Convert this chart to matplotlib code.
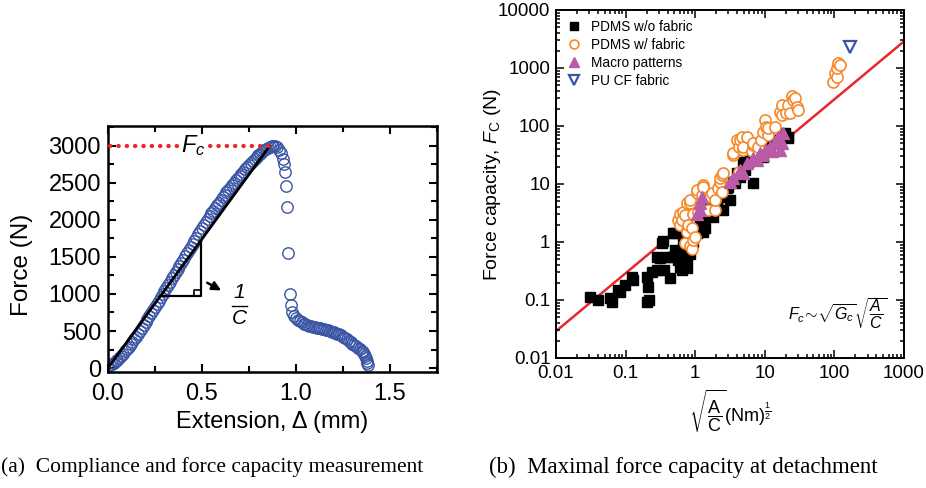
import matplotlib
matplotlib.use('Agg')
import matplotlib.pyplot as plt
from matplotlib.ticker import MultipleLocator, LogLocator, FuncFormatter, NullFormatter

plt.rcParams['font.family'] = ['Liberation Sans', 'DejaVu Sans']
plt.rcParams['mathtext.fontset'] = 'custom'
plt.rcParams['mathtext.rm'] = 'Liberation Sans'
plt.rcParams['mathtext.it'] = 'Liberation Sans:italic'
plt.rcParams['mathtext.bf'] = 'Liberation Sans:bold'
plt.rcParams['mathtext.sf'] = 'Liberation Sans'

# (a) force-extension curve
# loading branch
load_ext = [0.00, 0.01, 0.02, 0.03, 0.04, 0.05, 0.06, 0.07, 0.08, 0.09,
            0.10, 0.11, 0.12, 0.13, 0.14, 0.15, 0.16, 0.17, 0.18, 0.19,
            0.20, 0.21, 0.22, 0.23, 0.24, 0.25, 0.26, 0.27, 0.28, 0.29,
            0.30, 0.31, 0.32, 0.33, 0.34, 0.35, 0.36, 0.37, 0.38, 0.39,
            0.40, 0.41, 0.42, 0.43, 0.44, 0.45, 0.46, 0.47, 0.48, 0.49,
            0.50, 0.51, 0.52, 0.53, 0.54, 0.55, 0.56, 0.57, 0.58, 0.59,
            0.60, 0.61, 0.62, 0.63, 0.64, 0.65, 0.66, 0.67, 0.68, 0.69,
            0.70, 0.71, 0.72, 0.73, 0.74, 0.75, 0.76, 0.77, 0.78, 0.79,
            0.80, 0.81, 0.82, 0.83, 0.84, 0.85, 0.86, 0.87, 0.88, 0.89, 0.90]
load_force = [30, 38, 50, 68, 90, 113, 140, 167, 195, 225,
              255, 287, 320, 355, 390, 425, 460, 500, 540, 580,
              620, 660, 700, 742, 785, 828, 870, 912, 955, 998,
              1040, 1082, 1125, 1168, 1210, 1252, 1295, 1338, 1380, 1422,
              1465, 1508, 1550, 1592, 1635, 1678, 1720, 1762, 1805, 1848,
              1890, 1930, 1970, 2010, 2050, 2088, 2125, 2162, 2200, 2235,
              2270, 2305, 2340, 2372, 2405, 2438, 2470, 2502, 2535, 2565,
              2595, 2625, 2655, 2685, 2715, 2742, 2770, 2798, 2825, 2850,
              2875, 2898, 2920, 2940, 2960, 2976, 2990, 2997, 3000, 2995, 2985]
# sudden drop
drop_ext = [0.91, 0.92, 0.93, 0.935, 0.94, 0.945, 0.95, 0.96, 0.967, 0.975]
drop_force = [2950, 2900, 2830, 2760, 2650, 2460, 2180, 1550, 1000, 850]
# residual tail
tail_ext = [0.98, 0.99, 1.00, 1.01, 1.02, 1.03, 1.04, 1.05, 1.06, 1.07,
            1.08, 1.09, 1.10, 1.11, 1.12, 1.13, 1.14, 1.15, 1.16, 1.17,
            1.18, 1.19, 1.20, 1.21, 1.22, 1.23, 1.24, 1.25, 1.26, 1.27,
            1.28, 1.29, 1.30, 1.31, 1.32, 1.33, 1.34, 1.35, 1.355, 1.36,
            1.365, 1.37, 1.375, 1.38, 1.385]
tail_force = [760, 700, 670, 650, 630, 615, 600, 590, 580, 572,
              565, 557, 550, 545, 540, 535, 530, 522, 515, 508,
              500, 492, 485, 475, 465, 453, 440, 423, 405, 388,
              370, 350, 330, 312, 295, 275, 255, 230, 210, 185,
              160, 130, 100, 70, 40]
fc_value = 3000
fc_ext = 0.86

# (b) force capacity vs sqrt(A/C)
wo_x = [0.031, 0.040, 0.060, 0.063, 0.079, 0.083, 0.098, 0.129, 0.125, 0.200,
        0.210, 0.200, 0.220, 0.237, 0.280, 0.280, 0.310, 0.330, 0.348, 0.360,
        0.390, 0.430, 0.460, 0.485, 0.510, 0.510, 0.540, 0.570, 0.605, 0.640,
        0.670, 0.670, 0.670, 0.710, 0.750, 0.755, 0.800, 0.840, 0.890, 0.935,
        1.05, 1.17, 1.17, 1.17, 1.24, 1.31, 1.31, 1.38, 1.46, 1.63,
        1.82, 2.04, 2.04, 2.27, 2.40, 2.53, 2.84, 3.00, 3.16, 3.53,
        3.73, 3.95, 4.40, 4.90, 5.20, 5.50, 5.50, 6.80, 7.60, 9.50,
        11.2, 13.2, 14.8, 19.5, 21.8, 21.8]
wo_f = [0.114, 0.100, 0.108, 0.092, 0.149, 0.139, 0.180, 0.220, 0.250, 0.250,
        0.170, 0.094, 0.100, 0.310, 0.560, 0.330, 0.520, 0.950, 1.05, 0.330,
        0.560, 0.240, 0.560, 1.45, 0.730, 1.41, 0.620, 0.490, 0.375, 0.330,
        0.730, 1.25, 0.830, 0.730, 0.360, 0.520, 0.950, 0.620, 0.950, 1.02,
        1.41, 1.60, 1.84, 2.40, 3.10, 1.50, 2.40, 1.72, 3.56, 4.95,
        2.73, 4.10, 5.30, 6.00, 6.90, 3.56, 8.40, 9.00, 5.30, 11.0,
        10.3, 15.3, 13.4, 24.0, 17.4, 22.7, 26.0, 10.5, 29.6, 29.6,
        44.0, 57.0, 57.0, 75.0, 61.0, 65.0]

w_x = [0.570, 0.605, 0.605, 0.640, 0.670, 0.710, 0.710, 0.755, 0.755, 0.755,
       0.800, 0.840, 0.840, 0.840, 0.890, 0.890, 0.935, 0.935, 0.990, 1.05,
       1.05, 1.10, 1.24, 1.31, 1.31, 1.55, 1.63, 1.73, 1.92, 1.92,
       2.15, 2.27, 2.27, 2.40, 2.40, 2.53, 3.53, 3.53, 3.95, 4.20,
       4.20, 4.40, 4.66, 4.90, 4.90, 5.50, 6.45, 6.80, 6.80, 8.00,
       8.90, 9.50, 10.0, 10.5, 11.2, 11.2, 14.0, 16.5, 17.5, 17.5,
       20.5, 21.8, 23.1, 24.3, 25.6, 27.0, 28.7, 29.7,
       96.0, 102, 110, 110, 114, 120]
w_f = [2.40, 1.98, 3.10, 2.40, 3.33, 2.90, 0.97, 1.61, 1.50, 4.65,
       1.98, 4.65, 0.84, 5.30, 1.72, 0.75, 1.10, 3.10, 1.24, 6.90,
       7.90, 3.33, 6.40, 9.60, 9.00, 3.56, 6.00, 6.90, 3.56, 5.30,
       8.40, 11.0, 12.6, 7.40, 14.3, 15.3, 31.6, 33.8, 57.0, 16.3,
       44.0, 57.0, 65.0, 39.0, 44.0, 65.0, 36.5, 47.0, 50.0, 44.0,
       57.0, 80.0, 127, 97.0, 70.0, 91.0, 97.0, 177, 230, 155,
       165, 230, 165, 330, 280, 305, 215, 190,
       580, 810, 710, 987, 1205, 1130]

macro_x = [1.05, 1.17, 1.17, 1.24, 3.16, 3.53, 4.40, 4.90, 5.50, 6.80,
           7.60, 8.50, 9.50, 10.5, 11.9, 12.5, 14.0, 15.7, 16.5, 17.5, 18.5]
macro_f = [3.10, 3.56, 4.65, 6.00, 11.0, 12.6, 17.4, 15.3, 22.7, 27.6,
           26.0, 33.8, 31.6, 39.0, 44.0, 36.5, 52.0, 65.0, 39.0, 50.0, 75.0]

pu_x = [167]
pu_f = [2330]

fit_x = [0.01, 1000]
fit_f = [0.029, 2880]

blue = '#3b55a5'
orange = '#f5892a'
magenta = '#b95ba6'
red = '#e8262b'

fig = plt.figure(figsize=(9.26, 4.88), dpi=100)

# ---- (a)
ax1 = fig.add_axes([108 / 926, 1 - 372 / 488, 329 / 926, 246 / 488])
circ = dict(ls='none', marker='o', mfc='none', mec=blue, ms=8.2, mew=1.0, zorder=2)
ax1.plot(load_ext, load_force, **circ)
ax1.plot(drop_ext, drop_force, **circ)
ax1.plot(tail_ext, tail_force, **circ)
ax1.plot([0, fc_ext], [0, fc_value], color='k', lw=2, zorder=3)
dot = dict(color=red, lw=3, dashes=(0.1, 1.9), dash_capstyle='round', zorder=4)
ax1.plot([0.01, 0.365], [fc_value, fc_value], **dot)
ax1.plot([0.54, fc_ext], [fc_value, fc_value], **dot)
ax1.text(0.452, fc_value, '$F_c$', fontsize=17, ha='center', va='center')

# slope triangle
ax1.plot([0.28, 0.493, 0.493], [970, 970, 1720], color='k', lw=1.6)
ax1.plot([0.455, 0.455, 0.493], [970, 1060, 1060], color='k', lw=1.2)
ax1.annotate('', xy=(0.615, 1030), xytext=(0.515, 1170),
             arrowprops=dict(arrowstyle='-|>', color='k', lw=1.8, mutation_scale=13))
ax1.text(0.70, 1025, '1', fontsize=15, style='italic', ha='center', va='center')
ax1.plot([0.66, 0.74], [840, 840], color='k', lw=1.0)
ax1.text(0.70, 670, 'C', fontsize=15, style='italic', ha='center', va='center')

ax1.set_xlim(0, 1.75)
ax1.set_ylim(-54, 3270)
ax1.xaxis.set_major_locator(MultipleLocator(0.5))
ax1.xaxis.set_minor_locator(MultipleLocator(0.25))
ax1.yaxis.set_major_locator(MultipleLocator(500))
ax1.yaxis.set_minor_locator(MultipleLocator(250))
ax1.xaxis.set_major_formatter(FuncFormatter(lambda v, p: '%.1f' % v))
ax1.tick_params(which='both', direction='in', top=True, right=True, width=1.5, labelsize=17)
ax1.tick_params(which='major', length=6)
ax1.tick_params(which='minor', length=4)
ax1.tick_params(axis='x', pad=8)
ax1.tick_params(axis='y', pad=5)
for s in ax1.spines.values():
    s.set_linewidth(1.8)
ax1.set_xlabel('Extension, \u0394 (mm)', fontsize=17, labelpad=4)
ax1.set_ylabel('Force (N)', fontsize=17.5)
ax1.yaxis.set_label_coords(-0.228, 0.435)

# ---- (b)
ax2 = fig.add_axes([556 / 926, 1 - 358 / 488, 348 / 926, 348 / 488])
ax2.set_xscale('log')
ax2.set_yscale('log')
ax2.plot(fit_x, fit_f, color=red, lw=1.8, zorder=1)
ax2.plot(wo_x, wo_f, 's', color='k', ms=7, ls='none', label='PDMS w/o fabric', zorder=2)
ax2.plot(w_x, w_f, 'o', mfc='white', mec=orange, mew=1.2, ms=8, ls='none',
         label='PDMS w/ fabric', zorder=3)
ax2.plot(macro_x, macro_f, '^', color=magenta, ms=9, ls='none', label='Macro patterns', zorder=4)
ax2.plot(pu_x, pu_f, 'v', mfc='none', mec=blue, mew=1.6, ms=9, ls='none',
         label='PU CF fabric', zorder=5)

ax2.set_xlim(0.01, 1000)
ax2.set_ylim(0.01, 10000)
fmt = FuncFormatter(lambda v, p: '%g' % v)
for axis in (ax2.xaxis, ax2.yaxis):
    axis.set_major_locator(LogLocator(base=10, numticks=12))
    axis.set_minor_locator(LogLocator(base=10, subs=range(2, 10), numticks=12))
    axis.set_major_formatter(fmt)
    axis.set_minor_formatter(NullFormatter())
ax2.tick_params(which='both', direction='in', top=True, right=True, width=1.1, labelsize=13.5)
ax2.tick_params(which='major', length=6)
ax2.tick_params(which='minor', length=3)
ax2.tick_params(axis='y', pad=4)
ax2.tick_params(axis='x', pad=5)
for s in ax2.spines.values():
    s.set_linewidth(1.4)
ax2.set_ylabel('Force capacity, $F_\\mathrm{C}$ (N)', fontsize=14)
ax2.yaxis.set_label_coords(-0.152, 0.5)
ax2.set_xlabel('$\\sqrt{\\dfrac{\\mathrm{A}}{\\mathrm{C}}}\\mathrm{(Nm)}^{\\frac{1}{2}}$',
               fontsize=13, labelpad=4)
ax2.text(0.951, 0.125, '$F_c\\!\\sim\\!\\sqrt{G_c}\\sqrt{\\dfrac{A}{C}}$', fontsize=11.5,
         ha='right', va='center', transform=ax2.transAxes)
ax2.legend(loc='upper left', bbox_to_anchor=(0.0, 1.0), frameon=False, fontsize=9.8,
           markerscale=0.8, handlelength=1.2, handletextpad=0.6, labelspacing=0.28,
           borderaxespad=0.35)

# captions
fig.text(1 / 926, 1 - 467 / 488, '(a)  Compliance and force capacity measurement',
         family='Liberation Serif', fontsize=15.5, ha='left', va='center')
fig.text(683 / 926, 1 - 467 / 488, '(b)  Maximal force capacity at detachment',
         family='Liberation Serif', fontsize=16.5, ha='center', va='center')

fig.savefig('out.png', dpi=100)
